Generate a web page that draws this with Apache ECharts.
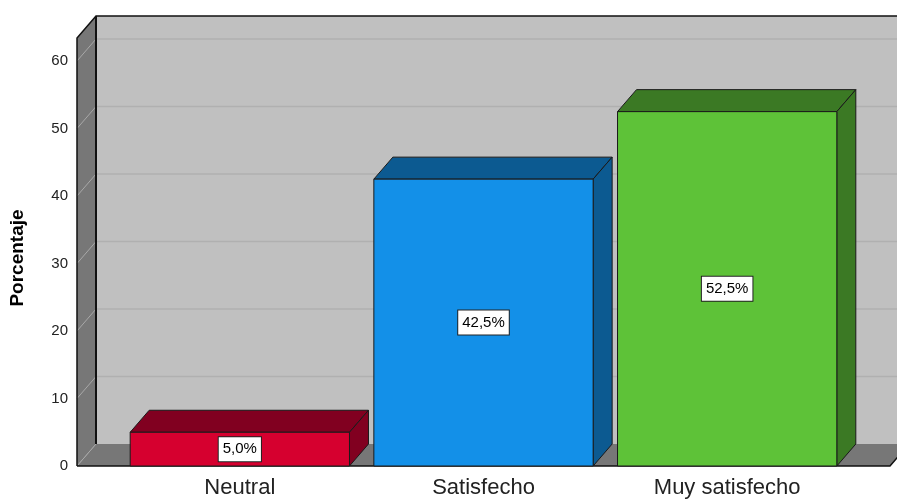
<!DOCTYPE html>
<html>
<head>
<meta charset="utf-8">
<title>Porcentaje</title>
<script src="https://cdn.jsdelivr.net/npm/echarts@6/dist/echarts.min.js"></script>
<style>
  html, body { margin: 0; padding: 0; background: #fff; }
  #chart { width: 897px; height: 499px; }
</style>
</head>
<body>
<div id="chart"></div>
<script>
var categories = ['Neutral', 'Satisfecho', 'Muy satisfecho'];
var percentages = [5.0, 42.5, 52.5];
var yTicks = [0, 10, 20, 30, 40, 50, 60];

// estilo 3D (pixeles)
var DX = 19, DY = -22;     // profundidad de paredes y barras
var SIDE = 41;             // suelo/pared fuera de las categorias
var WALL_TOP = 63.4;       // altura de la pared (valor del eje)
var frontColors = ['#d6002f', '#1390e8', '#5ec238'];
var darkColors = ['#810020', '#0c5a91', '#3b7924'];

function fmt(v) {
  return v.toFixed(1).replace('.', ',') + '%';
}

function renderBackdrop(params, api) {
  var cs = params.coordSys;
  var L = cs.x - SIDE, R = cs.x + cs.width + SIDE;
  var y0 = api.coord([0, 0])[1];
  var yt = api.coord([0, WALL_TOP])[1];
  var children = [];
  // pared del fondo
  children.push({
    type: 'polygon',
    shape: { points: [[L + DX, yt + DY], [R + DX, yt + DY], [R + DX, y0 + DY], [L + DX, y0 + DY]] },
    style: { fill: '#c0c0c0' }
  });
  yTicks.forEach(function (t) {
    if (t === 0) return;
    var y = api.coord([0, t])[1];
    children.push({
      type: 'line',
      shape: { x1: L + DX, y1: y + DY, x2: R + DX, y2: y + DY },
      style: { stroke: '#b0b0b0', lineWidth: 1.5 }
    });
  });
  // pared izquierda
  children.push({
    type: 'polygon',
    shape: { points: [[L, y0], [L, yt], [L + DX, yt + DY], [L + DX, y0 + DY]] },
    style: { fill: '#777777' }
  });
  // suelo
  children.push({
    type: 'polygon',
    shape: { points: [[L, y0], [L + DX, y0 + DY], [R + DX, y0 + DY], [R, y0]] },
    style: { fill: '#777777' }
  });
  // lineas de rejilla en la pared izquierda
  yTicks.forEach(function (t) {
    var y = api.coord([0, t])[1];
    children.push({
      type: 'line',
      shape: { x1: L, y1: y, x2: L + DX, y2: y + DY },
      style: { stroke: '#a8a8a8', lineWidth: 1 }
    });
  });
  // bordes
  children.push({
    type: 'polyline',
    shape: { points: [[L, y0], [L, yt], [L + DX, yt + DY], [R + DX, yt + DY]] },
    style: { stroke: '#111', lineWidth: 1.5, fill: null }
  });
  children.push({
    type: 'line',
    shape: { x1: L + DX, y1: yt + DY, x2: L + DX, y2: y0 + DY },
    style: { stroke: '#111', lineWidth: 2 }
  });
  children.push({
    type: 'polyline',
    shape: { points: [[L, y0], [R, y0], [R + DX, y0 + DY]] },
    style: { stroke: '#111', lineWidth: 1.5, fill: null }
  });
  return { type: 'group', children: children };
}

function renderBar(params, api) {
  var i = api.value(0), v = api.value(1);
  var top = api.coord([i, v]);
  var base = api.coord([i, 0]);
  var w = api.size([1, 0])[0] * 0.9;
  var xl = top[0] - w / 2, xr = top[0] + w / 2, yt = top[1], yb = base[1];
  var dark = darkColors[i], front = frontColors[i];
  return {
    type: 'group',
    children: [
      {
        type: 'polygon',
        shape: { points: [[xl, yt], [xl + DX, yt + DY], [xr + DX, yt + DY], [xr, yt]] },
        style: { fill: dark, stroke: '#1a1a1a', lineWidth: 1 }
      },
      {
        type: 'polygon',
        shape: { points: [[xr, yt], [xr + DX, yt + DY], [xr + DX, yb + DY], [xr, yb]] },
        style: { fill: dark, stroke: '#1a1a1a', lineWidth: 1 }
      },
      {
        type: 'rect',
        shape: { x: xl, y: yt, width: w, height: yb - yt },
        style: { fill: front, stroke: '#1a1a1a', lineWidth: 1 }
      },
      {
        type: 'text',
        style: {
          text: fmt(v),
          x: top[0],
          y: (yt + yb) / 2,
          align: 'center',
          verticalAlign: 'middle',
          fill: '#000',
          fontSize: 15,
          fontFamily: 'Liberation Sans',
          backgroundColor: '#fff',
          borderColor: '#222',
          borderWidth: 1,
          padding: [5, 4, 4, 4]
        }
      }
    ]
  };
}

var chart = echarts.init(document.getElementById('chart'));
var option = {
  animation: false,
  grid: { left: 117, right: 48, top: 61, bottom: 32, containLabel: false },
  xAxis: {
    type: 'category',
    data: categories,
    axisLine: { show: false },
    axisTick: { show: false },
    axisLabel: { fontSize: 22, color: '#222', margin: 11, fontFamily: 'Liberation Sans' }
  },
  yAxis: {
    type: 'value',
    min: 0,
    max: 60,
    interval: 10,
    offset: SIDE,
    name: 'Porcentaje',
    nameLocation: 'middle',
    nameGap: 50,
    nameTextStyle: {
      fontSize: 19, fontWeight: 'bold', color: '#000',
      fontFamily: 'Liberation Sans', padding: [0, 0, 0, 11]
    },
    axisLine: { show: false },
    axisTick: { show: false },
    splitLine: { show: false },
    axisLabel: { fontSize: 15, color: '#222', margin: 9, fontFamily: 'Liberation Sans' }
  },
  series: [
    {
      type: 'custom',
      coordinateSystem: 'cartesian2d',
      renderItem: renderBackdrop,
      data: [[0, 0]],
      silent: true
    },
    {
      type: 'custom',
      coordinateSystem: 'cartesian2d',
      renderItem: renderBar,
      data: percentages.map(function (v, i) { return [i, v]; })
    }
  ]
};
chart.setOption(option);
</script>
</body>
</html>
